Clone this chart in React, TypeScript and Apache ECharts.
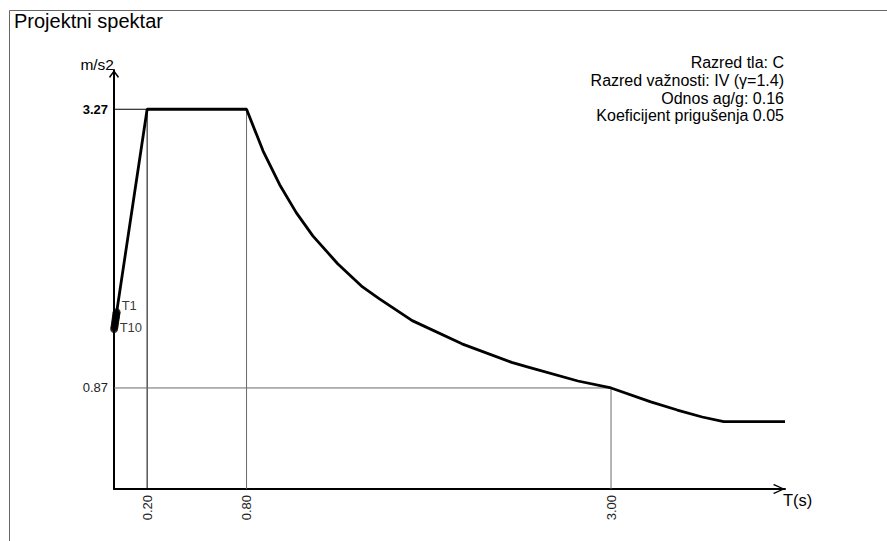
import React, { useEffect, useRef } from "react";
import * as echarts from "echarts";

const FONT = "'Liberation Sans', Arial, sans-serif";

const chartTitle = "Projektni spektar";
const infoLines = [
  "Razred tla: C",
  "Razred važnosti: IV (γ=1.4)",
  "Odnos ag/g: 0.16",
  "Koeficijent prigušenja 0.05",
];
const yAxisName = "m/s2";
const xAxisName = "T(s)";

// design spectrum (period s, acceleration m/s2)
const periods = [0, 0.2, 0.8, 0.9, 1.0, 1.1, 1.2, 1.35, 1.5, 1.6, 1.8, 2.1, 2.4, 2.5, 2.8, 3.0, 3.24, 3.4, 3.55, 3.68, 4.05];
const accelerations = [1.37, 3.27, 3.27, 2.91, 2.62, 2.38, 2.18, 1.94, 1.74, 1.64, 1.45, 1.25, 1.09, 1.05, 0.93, 0.87, 0.75, 0.68, 0.62, 0.58, 0.58];

// corner periods and their spectral values (guide lines)
const cornerPeriods = [0.2, 0.8, 3.0];
const cornerValues = [3.27, 3.27, 0.87];
const cornerColors = ["#000000", "#6b6b6b", "#6b6b6b"];
const horizontalGuideIdx = [0, 2];

const xTickValues = [0.2, 0.8, 3.0];
const yTickValues = [0.87, 3.27];
const boldYTick = 3.27;

// modal periods
const modeNames = ["T1", "T2", "T3", "T4", "T5", "T6", "T7", "T8", "T9", "T10"];
const modePeriods = [0.016, 0.0145, 0.013, 0.0115, 0.0098, 0.008, 0.0063, 0.0045, 0.0025, 0.0008];
const modeAccels = [1.522, 1.508, 1.494, 1.479, 1.463, 1.446, 1.43, 1.413, 1.394, 1.378];
const labelledModes = ["T1", "T10"];

const yArrow = "path://M5 0L10 6.8L9 8L5 2.4L1 8L0 6.8Z";
const xArrow = "path://M5 0L10 10.8L9 12L5 2.8L1 12L0 10.8Z";

export default function App() {
  const ref = useRef<HTMLDivElement>(null);

  useEffect(() => {
    if (!ref.current) return;
    const chart = echarts.init(ref.current, undefined, { renderer: "svg" });

    const curve = periods.map((t, i) => [t, accelerations[i]]);

    const guideSeries: any[] = [];
    cornerPeriods.forEach((t, i) => {
      guideSeries.push({
        type: "line",
        data: [
          [t, 0],
          [t, cornerValues[i]],
        ],
        symbol: "none",
        silent: true,
        lineStyle: { color: cornerColors[i], width: 1 },
        z: 2,
      });
      if (horizontalGuideIdx.includes(i)) {
        guideSeries.push({
          type: "line",
          data: [
            [0, cornerValues[i]],
            [t, cornerValues[i]],
          ],
          symbol: "none",
          silent: true,
          lineStyle: { color: i === 0 ? "#000000" : "#6b6b6b", width: 1 },
          z: 2,
        });
      }
    });

    const modeData = modeNames.map((n, i) => {
      const item: any = { name: n, value: [modePeriods[i], modeAccels[i]] };
      if (labelledModes.includes(n)) {
        item.label = {
          show: true,
          position: "right",
          distance: i === 0 ? 1 : 1.5,
          offset: i === 0 ? [0, -7] : [0, -1],
          formatter: "{b}",
          fontSize: 13,
          fontFamily: FONT,
          color: "#000000",
          textBorderWidth: 0,
        };
      }
      return item;
    });

    chart.setOption({
      animation: false,
      backgroundColor: "#ffffff",
      title: {
        text: chartTitle,
        left: 14,
        top: 11,
        padding: 0,
        textStyle: { fontSize: 20, fontWeight: "normal", fontFamily: FONT, color: "#000" },
      },
      grid: { left: 114, right: 102, top: 70, bottom: 52, containLabel: false, outerBoundsMode: "none" },
      xAxis: {
        type: "value",
        min: 0,
        max: 4.05,
        name: xAxisName,
        nameLocation: "end",
        nameGap: -2,
        nameTextStyle: { fontSize: 16.5, fontFamily: FONT, color: "#000", align: "left", verticalAlign: "top", lineHeight: 16, padding: [3, 0, 0, 0] },
        axisLine: {
          show: true,
          onZero: false,
          symbol: ["none", xArrow],
          symbolSize: [10, 12],
          symbolOffset: [0, -6],
          lineStyle: { color: "#000", width: 2 },
        },
        axisTick: { show: false },
        splitLine: { show: false },
        axisLabel: {
          customValues: xTickValues,
          rotate: 90,
          margin: 6,
          fontSize: 13,
          fontFamily: FONT,
          color: "#222",
          formatter: (v: number) => v.toFixed(2),
        },
      },
      yAxis: {
        type: "value",
        min: 0,
        max: 3.608,
        name: yAxisName,
        nameLocation: "end",
        nameGap: 6,
        nameTextStyle: { fontSize: 15.5, fontFamily: FONT, color: "#000", align: "right", verticalAlign: "middle" },
        axisLine: {
          show: true,
          onZero: false,
          symbol: ["none", yArrow],
          symbolSize: [10, 8],
          symbolOffset: [0, -4],
          lineStyle: { color: "#000", width: 2 },
        },
        axisTick: { show: false },
        splitLine: { show: false },
        axisLabel: {
          customValues: yTickValues,
          margin: 6,
          fontSize: 13,
          fontFamily: FONT,
          color: "#222",
          formatter: (v: number) => (Math.abs(v - boldYTick) < 1e-6 ? "{b|" + v.toFixed(2) + "}" : v.toFixed(2)),
          rich: { b: { fontWeight: "bold", fontSize: 13, fontFamily: FONT, color: "#000" } },
        },
      },
      graphic: [
        {
          type: "rect",
          shape: { x: 9.5, y: 10.5, width: 1000, height: 1000 },
          style: { fill: "none", stroke: "#666", lineWidth: 1 },
          silent: true,
          z: 0,
        },
        {
          type: "text",
          x: 784,
          y: 54,
          style: {
            text: infoLines.join("\n"),
            align: "right",
            verticalAlign: "top",
            fontSize: 16,
            fontFamily: FONT,
            lineHeight: 17.6,
            fill: "#000",
          },
          silent: true,
        },
      ],
      series: [
        ...guideSeries,
        {
          type: "line",
          data: curve,
          symbol: "none",
          clip: false,
          lineStyle: { color: "#000", width: 2.8 },
          z: 5,
        },
        {
          type: "scatter",
          data: modeData,
          symbol: "circle",
          symbolSize: 8,
          itemStyle: { color: "#000" },
          label: { show: false, color: "#000000" },
          z: 6,
        },
      ],
    });

    return () => chart.dispose();
  }, []);

  return (
    <div
      ref={ref}
      style={{ position: "fixed", left: 0, top: 0, width: 887, height: 541, background: "#fff" }}
    />
  );
}
